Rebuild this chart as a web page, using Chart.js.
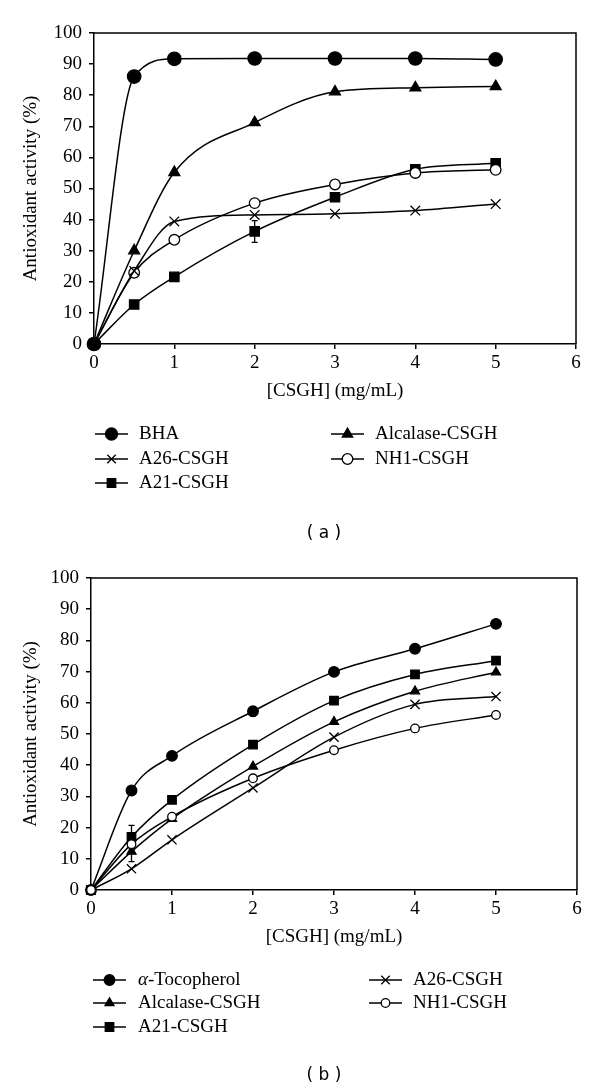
<!DOCTYPE html>
<html>
<head>
<meta charset="utf-8">
<script src="https://cdn.jsdelivr.net/npm/chart.js@4.4.1/dist/chart.umd.min.js"></script>
<style>
  html, body { margin: 0; padding: 0; background: #fff; }
  .panel { position: absolute; left: 0; width: 600px; }
</style>
</head>
<body>
<div class="panel" style="top:0;height:545px"><canvas id="chartA"></canvas></div>
<div class="panel" style="top:545px;height:546px"><canvas id="chartB"></canvas></div>
<script>
// concentrations (mg/mL)
const conc = [0, 0.5, 1, 2, 3, 4, 5];

// panel (a)
const bhaA      = [0, 86, 91.7, 91.8, 91.8, 91.8, 91.5];
const alcalaseA = [0, 30, 55.2, 71.2, 81.1, 82.4, 82.8];
const a26A      = [0, 23.5, 39.4, 41.5, 41.9, 42.9, 45];
const a21A      = [0, 12.7, 21.6, 36.2, 47.2, 56.2, 58.1];
const nh1A      = [0, 22.9, 33.5, 45.3, 51.3, 55, 56];
const a21ErrA   = [0, 0, 0, 3.5, 1.2, 0, 0];

// panel (b)
const tocoB      = [0, 31.9, 43, 57.3, 69.9, 77.3, 85.3];
const alcalaseB  = [0, 12.3, 22.8, 39.6, 53.9, 63.7, 69.8];
const a21B       = [0, 17, 28.9, 46.6, 60.7, 69.1, 73.5];
const a26B       = [0, 6.8, 16.1, 32.7, 49, 59.5, 62];
const nh1B       = [0, 14.7, 23.5, 35.8, 44.8, 51.8, 56.1];
const tocoErrB   = [0, 0, 0, 1.5, 0, 1.3, 0];
const a21ErrB    = [0, 3.7, 0, 0, 0, 0, 0];
const alcalaseErrB = [0, 3.2, 0, 0, 0, 0, 0];
const nh1ErrB    = [0, 0, 0, 0, 2, 0, 0];

const xTicks = [0, 6, 1];     // min, max, step
const yTicks = [0, 100, 10];

const SERIF = '"Liberation Serif", "Times New Roman", serif';

function drawMarker(ctx, style, x, y, r, filled) {
    ctx.save();
    ctx.lineWidth = 1.3;
    ctx.strokeStyle = "#000";
    ctx.fillStyle = filled ? "#000" : "#fff";
    ctx.beginPath();
    if (style === "circle") {
        ctx.arc(x, y, r, 0, Math.PI * 2);
    } else if (style === "rect") {
        const s = r * Math.SQRT1_2;
        ctx.rect(x - s, y - s, 2 * s, 2 * s);
    } else if (style === "triangle") {
        let a = 0;
        ctx.moveTo(x + Math.sin(a) * r, y - Math.cos(a) * r);
        a += 2 * Math.PI / 3;
        ctx.lineTo(x + Math.sin(a) * r, y - Math.cos(a) * r);
        a += 2 * Math.PI / 3;
        ctx.lineTo(x + Math.sin(a) * r, y - Math.cos(a) * r);
        ctx.closePath();
    } else if (style === "crossRot") {
        const o = r * Math.SQRT1_2;
        ctx.moveTo(x - o, y - o); ctx.lineTo(x + o, y + o);
        ctx.moveTo(x - o, y + o); ctx.lineTo(x + o, y - o);
        ctx.stroke();
        ctx.restore();
        return;
    }
    ctx.fill();
    ctx.stroke();
    ctx.restore();
}

function makeSet(label, values, style, filled, radius, errors) {
    return {
        label: label,
        data: conc.map((x, i) => ({ x: x, y: values[i] })),
        errors: errors || null,
        pointStyle: style,
        filled: filled,
        pointRadius: radius,
        pointHoverRadius: radius,
        pointBackgroundColor: filled ? "#000" : "#fff",
        pointBorderColor: "#000",
        pointBorderWidth: 1.3,
        borderColor: "#000",
        borderWidth: 1.5,
        cubicInterpolationMode: "monotone",
        fill: false,
        clip: false
    };
}

// top + right border of the plot box
const framePlugin = {
    id: "frame",
    afterDraw(chart) {
        const { ctx, chartArea: a } = chart;
        ctx.save();
        ctx.strokeStyle = "#000";
        ctx.lineWidth = 1.5;
        ctx.beginPath();
        ctx.moveTo(a.left, a.top);
        ctx.lineTo(a.right, a.top);
        ctx.lineTo(a.right, a.bottom);
        ctx.stroke();
        ctx.restore();
    }
};

const errorBarPlugin = {
    id: "errorBars",
    beforeDatasetsDraw(chart) {
        const { ctx, scales } = chart;
        ctx.save();
        ctx.strokeStyle = "#000";
        ctx.lineWidth = 1.3;
        chart.data.datasets.forEach((ds) => {
            if (!ds.errors) return;
            ds.data.forEach((p, i) => {
                const e = ds.errors[i];
                if (!e) return;
                const x = scales.x.getPixelForValue(p.x);
                const y1 = scales.y.getPixelForValue(p.y - e);
                const y2 = scales.y.getPixelForValue(p.y + e);
                ctx.beginPath();
                ctx.moveTo(x, y1); ctx.lineTo(x, y2);
                ctx.moveTo(x - 3, y1); ctx.lineTo(x + 3, y1);
                ctx.moveTo(x - 3, y2); ctx.lineTo(x + 3, y2);
                ctx.stroke();
            });
        });
        ctx.restore();
    }
};

// legend in two columns plus the panel caption
function legendPlugin(cols, rows, caption) {
    return {
        id: "panelLegend",
        afterDraw(chart) {
            const ctx = chart.ctx;
            const sets = chart.data.datasets;
            ctx.save();
            ctx.textBaseline = "middle";
            ctx.fillStyle = "#000";
            sets.forEach((ds) => {
                const c = cols[ds.legendCol];
                const y = rows[ds.legendRow];
                ctx.strokeStyle = "#000";
                ctx.lineWidth = 1.5;
                ctx.beginPath();
                ctx.moveTo(c.x0, y);
                ctx.lineTo(c.x0 + 33, y);
                ctx.stroke();
                drawMarker(ctx, ds.pointStyle, c.x0 + 16.5, y, Math.min(ds.pointRadius, 6), ds.filled);
                let tx = c.tx;
                if (ds.label.startsWith("α")) {
                    ctx.font = "italic 19px " + SERIF;
                    ctx.fillText("α", tx, y);
                    tx += ctx.measureText("α").width;
                    ctx.font = "19px " + SERIF;
                    ctx.fillText(ds.label.slice(1), tx, y);
                } else {
                    ctx.font = "19px " + SERIF;
                    ctx.fillText(ds.label, tx, y);
                }
            });
            ctx.font = '17px "DejaVu Sans", sans-serif';
            ctx.textAlign = "center";
            ctx.fillText(caption.text, caption.x, caption.y);
            ctx.restore();
        }
    };
}

function makeOptions(axisWidth, pad) {
    const tickFont = { family: SERIF, size: 19 };
    return {
        responsive: true,
        maintainAspectRatio: false,
        animation: false,
        events: [],
        layout: { padding: pad },
        plugins: { legend: { display: false }, tooltip: { enabled: false } },
        scales: {
            x: {
                type: "linear",
                min: xTicks[0], max: xTicks[1],
                ticks: { stepSize: xTicks[2], color: "#000", font: tickFont, padding: 3 },
                grid: { drawOnChartArea: false, tickLength: 5, color: "#000", lineWidth: 1.5 },
                border: { color: "#000", width: 1.5 },
                title: { display: true, text: "[CSGH] (mg/mL)", color: "#000", font: tickFont, padding: { top: 0, bottom: 18 } },
                afterFit(s) { s.height = 76; }
            },
            y: {
                min: yTicks[0], max: yTicks[1],
                ticks: { stepSize: yTicks[2], color: "#000", font: tickFont, padding: 7 },
                grid: { drawOnChartArea: false, tickLength: 5, color: "#000", lineWidth: 1.5 },
                border: { color: "#000", width: 1.5 },
                title: { display: true, text: "Antioxidant activity (%)", color: "#000", font: tickFont, padding: { top: 20, bottom: 0 } },
                afterFit(s) { s.width = axisWidth; }
            }
        }
    };
}

function placed(ds, col, row) { ds.legendCol = col; ds.legendRow = row; return ds; }

// panel (a)
new Chart(document.getElementById("chartA"), {
    type: "line",
    data: {
        datasets: [
            placed(makeSet("BHA", bhaA, "circle", true, 6.7), 0, 0),
            placed(makeSet("Alcalase-CSGH", alcalaseA, "triangle", true, 6.3), 1, 0),
            placed(makeSet("A26-CSGH", a26A, "crossRot", false, 6.8), 0, 1),
            placed(makeSet("NH1-CSGH", nh1A, "circle", false, 5.3), 1, 1),
            placed(makeSet("A21-CSGH", a21A, "rect", true, 6.6, a21ErrA), 0, 2)
        ]
    },
    options: makeOptions(94, { top: 33, right: 24, bottom: 125, left: 0 }),
    plugins: [framePlugin, errorBarPlugin,
        legendPlugin([{ x0: 95, tx: 139 }, { x0: 331, tx: 375 }], [434, 459, 483], { text: "( a )", x: 324, y: 534 })]
});

// panel (b)
new Chart(document.getElementById("chartB"), {
    type: "line",
    data: {
        datasets: [
            placed(makeSet("NH1-CSGH", nh1B, "circle", false, 4.3), 1, 1),
            placed(makeSet("α-Tocopherol", tocoB, "circle", true, 5.3, tocoErrB), 0, 0),
            placed(makeSet("Alcalase-CSGH", alcalaseB, "triangle", true, 5.2, alcalaseErrB), 0, 1),
            placed(makeSet("A26-CSGH", a26B, "crossRot", false, 6.5), 1, 0),
            placed(makeSet("A21-CSGH", a21B, "rect", true, 6, a21ErrB), 0, 2)
        ]
    },
    options: makeOptions(91, { top: 33, right: 23, bottom: 125, left: 0 }),
    plugins: [framePlugin, errorBarPlugin,
        legendPlugin([{ x0: 93, tx: 138 }, { x0: 369, tx: 413 }], [435, 458, 482], { text: "( b )", x: 324, y: 531 })]
});
</script>
</body>
</html>
